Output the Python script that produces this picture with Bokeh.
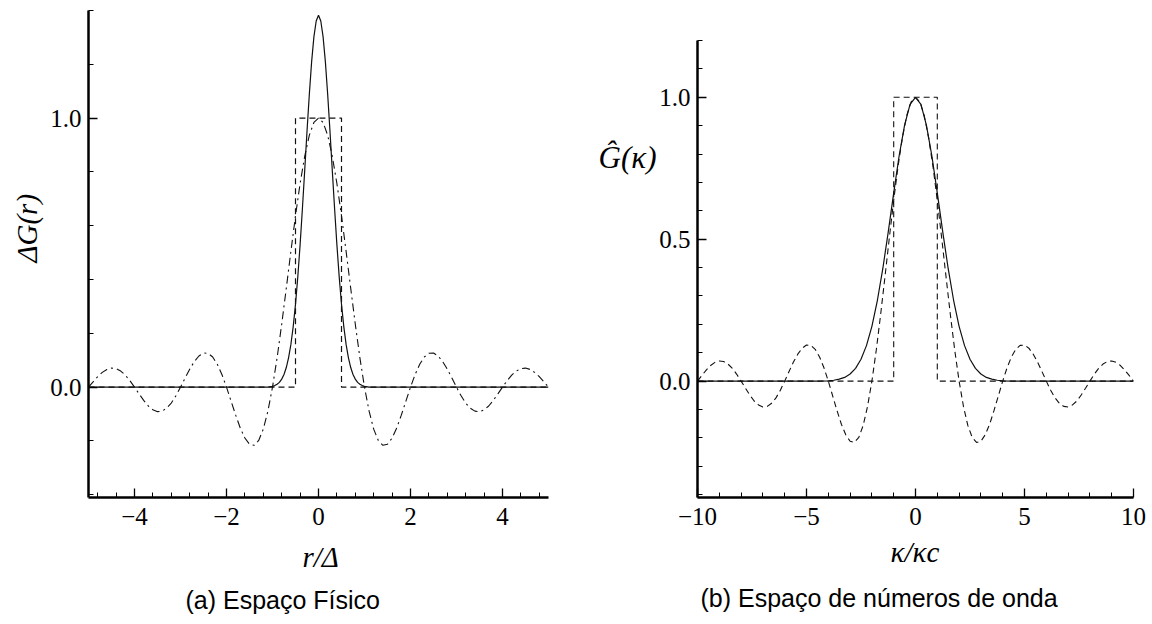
import math
from bokeh.plotting import figure
from bokeh.layouts import row
from bokeh.models import Title, FixedTicker, CustomJSTickFormatter, LinearAxis
from bokeh.embed import file_html
from bokeh.resources import INLINE

# ---------------- data ----------------
# (a) physical space
R_GRID = [-5.0, -4.9, -4.8, -4.7, -4.6, -4.5, -4.4, -4.3, -4.2, -4.1,
          -4.0, -3.9, -3.8, -3.7, -3.6, -3.5, -3.4, -3.3, -3.2, -3.1,
          -3.0, -2.9, -2.8, -2.7, -2.6, -2.5, -2.4, -2.3, -2.2, -2.1,
          -2.0, -1.9, -1.8, -1.7, -1.6, -1.5, -1.4, -1.3, -1.2, -1.1,
          -1.0, -0.9, -0.8, -0.7, -0.6, -0.5, -0.4, -0.3, -0.2, -0.1,
          0.0,
          0.1, 0.2, 0.3, 0.4, 0.5, 0.6, 0.7, 0.8, 0.9, 1.0,
          1.1, 1.2, 1.3, 1.4, 1.5, 1.6, 1.7, 1.8, 1.9, 2.0,
          2.1, 2.2, 2.3, 2.4, 2.5, 2.6, 2.7, 2.8, 2.9, 3.0,
          3.1, 3.2, 3.3, 3.4, 3.5, 3.6, 3.7, 3.8, 3.9, 4.0,
          4.1, 4.2, 4.3, 4.4, 4.5, 4.6, 4.7, 4.8, 4.9, 5.0]
SHARP_R = [0.0, 0.020, 0.039, 0.055, 0.066, 0.071, 0.069, 0.060, 0.045, 0.024,
           0.0, -0.025, -0.049, -0.070, -0.084, -0.091, -0.089, -0.078, -0.059, -0.032,
           0.0, 0.034, 0.067, 0.095, 0.116, 0.127, 0.126, 0.112, 0.085, 0.047,
           0.0, -0.052, -0.104, -0.152, -0.189, -0.212, -0.216, -0.198, -0.156, -0.089,
           0.0, 0.109, 0.234, 0.368, 0.505, 0.637, 0.757, 0.858, 0.936, 0.984,
           1.0,
           0.984, 0.936, 0.858, 0.757, 0.637, 0.505, 0.368, 0.234, 0.109, 0.0,
           -0.089, -0.156, -0.198, -0.216, -0.212, -0.189, -0.152, -0.104, -0.052, 0.0,
           0.047, 0.085, 0.112, 0.126, 0.127, 0.116, 0.095, 0.067, 0.034, 0.0,
           -0.032, -0.059, -0.078, -0.089, -0.091, -0.084, -0.070, -0.049, -0.025, 0.0,
           0.024, 0.045, 0.060, 0.069, 0.071, 0.066, 0.055, 0.039, 0.020, 0.0]
BOX_R_X = [-5.0, -0.5, -0.5, 0.5, 0.5, 5.0]
BOX_R_Y = [0.0, 0.0, 1.0, 1.0, 0.0, 0.0]
GAUSS_R_X = [-5.0, -1.1, -1.0, -0.95, -0.9, -0.85, -0.8, -0.75, -0.7, -0.65, -0.6,
             -0.55, -0.5, -0.45, -0.4, -0.35, -0.3, -0.25, -0.2, -0.15, -0.1, -0.05,
             0.0,
             0.05, 0.1, 0.15, 0.2, 0.25, 0.3, 0.35, 0.4, 0.45, 0.5, 0.55,
             0.6, 0.65, 0.7, 0.75, 0.8, 0.85, 0.9, 0.95, 1.0, 1.1, 5.0]
GAUSS_R_Y = [0.0, 0.0, 0.003, 0.006, 0.011, 0.018, 0.030, 0.047, 0.073, 0.110, 0.159,
             0.225, 0.308, 0.410, 0.529, 0.663, 0.805, 0.950, 1.087, 1.208, 1.302, 1.361,
             1.382,
             1.361, 1.302, 1.208, 1.087, 0.950, 0.805, 0.663, 0.529, 0.410, 0.308, 0.225,
             0.159, 0.110, 0.073, 0.047, 0.030, 0.018, 0.011, 0.006, 0.003, 0.0, 0.0]

# (b) wavenumber space
K_GRID = [-10.0, -9.8, -9.6, -9.4, -9.2, -9.0, -8.8, -8.6, -8.4, -8.2,
          -8.0, -7.8, -7.6, -7.4, -7.2, -7.0, -6.8, -6.6, -6.4, -6.2,
          -6.0, -5.8, -5.6, -5.4, -5.2, -5.0, -4.8, -4.6, -4.4, -4.2,
          -4.0, -3.8, -3.6, -3.4, -3.2, -3.0, -2.8, -2.6, -2.4, -2.2,
          -2.0, -1.8, -1.6, -1.4, -1.2, -1.0, -0.8, -0.6, -0.4, -0.2,
          0.0,
          0.2, 0.4, 0.6, 0.8, 1.0, 1.2, 1.4, 1.6, 1.8, 2.0,
          2.2, 2.4, 2.6, 2.8, 3.0, 3.2, 3.4, 3.6, 3.8, 4.0,
          4.2, 4.4, 4.6, 4.8, 5.0, 5.2, 5.4, 5.6, 5.8, 6.0,
          6.2, 6.4, 6.6, 6.8, 7.0, 7.2, 7.4, 7.6, 7.8, 8.0,
          8.2, 8.4, 8.6, 8.8, 9.0, 9.2, 9.4, 9.6, 9.8, 10.0]
BOX_K = [0.0, 0.020, 0.039, 0.055, 0.066, 0.071, 0.069, 0.060, 0.045, 0.024,
         0.0, -0.025, -0.049, -0.070, -0.084, -0.091, -0.089, -0.078, -0.059, -0.032,
         0.0, 0.034, 0.067, 0.095, 0.116, 0.127, 0.126, 0.112, 0.085, 0.047,
         0.0, -0.052, -0.104, -0.152, -0.189, -0.212, -0.216, -0.198, -0.156, -0.089,
         0.0, 0.109, 0.234, 0.368, 0.505, 0.637, 0.757, 0.858, 0.936, 0.984,
         1.0,
         0.984, 0.936, 0.858, 0.757, 0.637, 0.505, 0.368, 0.234, 0.109, 0.0,
         -0.089, -0.156, -0.198, -0.216, -0.212, -0.189, -0.152, -0.104, -0.052, 0.0,
         0.047, 0.085, 0.112, 0.126, 0.127, 0.116, 0.095, 0.067, 0.034, 0.0,
         -0.032, -0.059, -0.078, -0.089, -0.091, -0.084, -0.070, -0.049, -0.025, 0.0,
         0.024, 0.045, 0.060, 0.069, 0.071, 0.066, 0.055, 0.039, 0.020, 0.0]
SHARP_K_X = [-10.0, -1.0, -1.0, 1.0, 1.0, 10.0]
SHARP_K_Y = [0.0, 0.0, 1.0, 1.0, 0.0, 0.0]
GAUSS_K_X = [-10.0, -5.0, -4.5, -4.0, -3.75, -3.5, -3.25, -3.0, -2.75, -2.5, -2.25,
             -2.0, -1.75, -1.5, -1.25, -1.0, -0.75, -0.5, -0.25,
             0.0,
             0.25, 0.5, 0.75, 1.0, 1.25, 1.5, 1.75, 2.0, 2.25, 2.5, 2.75,
             3.0, 3.25, 3.5, 3.75, 4.0, 4.5, 5.0, 10.0]
GAUSS_K_Y = [0.0, 0.0, 0.0, 0.001, 0.003, 0.007, 0.013, 0.025, 0.045, 0.077, 0.125,
             0.193, 0.284, 0.396, 0.526, 0.663, 0.794, 0.902, 0.975,
             1.0,
             0.975, 0.902, 0.794, 0.663, 0.526, 0.396, 0.284, 0.193, 0.125, 0.077, 0.045,
             0.025, 0.013, 0.007, 0.003, 0.001, 0.0, 0.0, 0.0]

A_XTICKS = [-4, -2, 0, 2, 4]
A_XMINOR = [-4.8, -4.4, -3.6, -3.2, -2.8, -2.4, -1.6, -1.2, -0.8, -0.4,
            0.4, 0.8, 1.2, 1.6, 2.4, 2.8, 3.2, 3.6, 4.4, 4.8]
A_YTICKS = [0.0, 1.0]
A_YMINOR = [-0.4, -0.2, 0.2, 0.4, 0.6, 0.8, 1.2, 1.4]
B_XTICKS = [-10, -5, 0, 5, 10]
B_XMINOR = [-9, -8, -7, -6, -4, -3, -2, -1, 1, 2, 3, 4, 6, 7, 8, 9]
B_YTICKS = [0.0, 0.5, 1.0]
B_YMINOR = [-0.4, -0.3, -0.2, -0.1, 0.1, 0.2, 0.3, 0.4, 0.6, 0.7, 0.8, 0.9, 1.1, 1.2]

# ---------------- layout ----------------
H = 624
PW = 576
A_FRAME = dict(left=88, right=548, top=10, bottom=497, x0=0)
B_FRAME = dict(left=697, right=1133, top=10, bottom=497, x0=576)
A_XR, A_YR = (-5.0, 5.0), (-0.41, 1.40)
# panel (b): axis drawn from -0.41 to 1.2 (pixels 497..40); frame extends to the
# same top as panel (a), so the range top is extended by the extra 30 px
B_AXIS_Y = (-0.41, 1.20)
B_XR = (-10.0, 10.0)
B_YR = (B_AXIS_Y[0], B_AXIS_Y[0] + (B_AXIS_Y[1] - B_AXIS_Y[0]) * (497 - 10) / (497 - 40))
B_YLABEL_AT = B_AXIS_Y[0] + (B_AXIS_Y[1] - B_AXIS_Y[0]) * (497 - 157) / (497 - 40)

SERIF = "Liberation Serif"
SANS = "Liberation Sans"
INK = "#111111"


def make_fig(fr, xr, yr, xt, xm, yt, ym):
    p = figure(width=PW, height=H, x_range=xr, y_range=yr,
               output_backend="svg", toolbar_location=None,
               min_border_left=fr["left"] - fr["x0"],
               min_border_right=fr["x0"] + PW - fr["right"],
               min_border_top=fr["top"], min_border_bottom=H - fr["bottom"])
    p.outline_line_color = None
    p.xgrid.visible = False
    p.ygrid.visible = False
    p.background_fill_color = "white"
    p.border_fill_color = "white"
    p.xaxis.ticker = FixedTicker(ticks=xt, minor_ticks=xm)
    p.yaxis.ticker = FixedTicker(ticks=yt, minor_ticks=ym)
    p.xaxis.formatter = CustomJSTickFormatter(
        code="return tick < 0 ? '\u2212' + Math.abs(tick) : String(tick);")
    p.yaxis.formatter = CustomJSTickFormatter(code="return tick.toFixed(1);")
    for ax in (p.xaxis[0], p.yaxis[0]):
        ax.axis_line_width = 2.5
        ax.axis_line_color = "black"
        ax.major_tick_in = 9
        ax.major_tick_out = 0
        ax.minor_tick_in = 5
        ax.minor_tick_out = 0
        ax.major_tick_line_width = 1.3
        ax.minor_tick_line_width = 1.0
        ax.major_tick_line_color = "black"
        ax.minor_tick_line_color = "black"
        ax.major_label_text_font = SERIF
        ax.major_label_text_font_size = "25px"
        ax.major_label_text_color = "black"
    p.xaxis.major_label_standoff = 10
    p.yaxis.major_label_standoff = 7
    return p


def title(p, fr, side, text, start_px, font=SERIF, size="29px", style="italic",
          standoff=0, valign="bottom"):
    # start_px: page pixel where the text starts (x for below, y for left)
    if side == "left":
        off = fr["bottom"] - start_px
    else:
        off = start_px - fr["left"]
    p.add_layout(Title(text=text, align="left", offset=off, text_font=font,
                       text_font_size=size, text_font_style=style,
                       vertical_align=valign,
                       text_color="black", standoff=standoff), side)


# ---------- panel (a) ----------
pa = make_fig(A_FRAME, A_XR, A_YR, A_XTICKS, A_XMINOR, A_YTICKS, A_YMINOR)
pa.line(GAUSS_R_X, GAUSS_R_Y, line_color=INK, line_width=1.2)
pa.line(BOX_R_X, BOX_R_Y, line_color=INK, line_width=1.2, line_dash="6 4")
pa.line(R_GRID, SHARP_R, line_color=INK, line_width=1.1, line_dash="8 4 2 4")

title(pa, A_FRAME, "left", "ΔG(r)", 262, standoff=6, valign="top")
title(pa, A_FRAME, "below", "r/Δ", 302, standoff=22)
title(pa, A_FRAME, "below", "(a) Espaço Físico", 185, font=SANS, size="25px",
      style="normal", standoff=0)

# ---------- panel (b) ----------
pb = make_fig(B_FRAME, B_XR, B_YR, B_XTICKS, B_XMINOR, B_YTICKS, B_YMINOR)
pb.yaxis[0].bounds = B_AXIS_Y
pb.line(GAUSS_K_X, GAUSS_K_Y, line_color=INK, line_width=1.2)
pb.line(SHARP_K_X, SHARP_K_Y, line_color=INK, line_width=1.1, line_dash="6 4")
pb.line(K_GRID, BOX_K, line_color=INK, line_width=1.1, line_dash="6 4")

# horizontal y-axis title, carried by a tick-less extra axis on the left
ylab = LinearAxis(ticker=FixedTicker(ticks=[B_YLABEL_AT], minor_ticks=[]),
                  formatter=CustomJSTickFormatter(code="return 'Ĝ(κ)';"))
ylab.axis_line_color = None
ylab.major_tick_line_color = None
ylab.minor_tick_line_color = None
ylab.major_tick_in = 0
ylab.major_tick_out = 0
ylab.major_label_standoff = 0
ylab.major_label_text_font = SERIF
ylab.major_label_text_font_size = "31px"
ylab.major_label_text_font_style = "italic"
ylab.major_label_text_color = "black"
pb.add_layout(ylab, "left")

title(pb, B_FRAME, "below", "κ/κc", 890, standoff=12)
title(pb, B_FRAME, "below", "(b) Espaço de números de onda", 700, font=SANS,
      size="25px", style="normal", standoff=16)

layout = row(pa, pb)
open("out.html", "w").write(file_html(layout, INLINE))
